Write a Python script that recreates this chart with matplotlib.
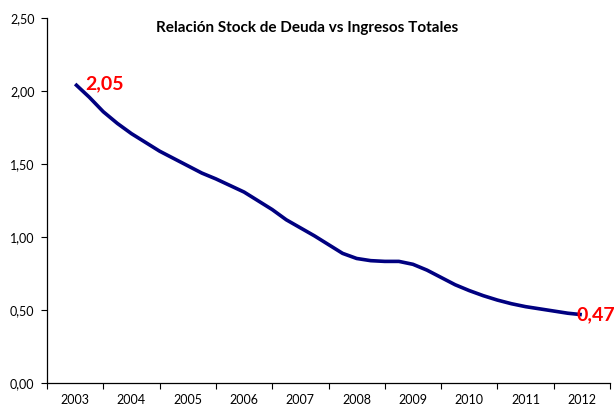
import matplotlib
matplotlib.use("Agg")
import matplotlib.pyplot as plt
from matplotlib.ticker import FuncFormatter, FixedLocator
import numpy as np

years = ["2003", "2004", "2005", "2006", "2007", "2008", "2009", "2010", "2011", "2012"]
# quarterly readings (fractional position within the category axis)
quarter_pos = [i / 4 for i in range(37)]
ratio = [2.05, 1.96, 1.86, 1.78, 1.71, 1.65, 1.59, 1.54, 1.49, 1.44, 1.40, 1.355,
         1.31, 1.25, 1.19, 1.12, 1.065, 1.01, 0.95, 0.89, 0.855, 0.84, 0.835, 0.835,
         0.815, 0.775, 0.725, 0.675, 0.635, 0.60, 0.57, 0.545, 0.525, 0.51, 0.495,
         0.48, 0.47]
first_label = "2,05"
last_label = "0,47"
title = "Relación Stock de Deuda vs Ingresos Totales"

plt.rcParams['font.family'] = ['Lato', 'DejaVu Sans']

fig = plt.figure(figsize=(6.15, 4.09), dpi=100)
ax = fig.add_axes([47/615, 1-383.3/409, (610-47)/615, (383.3-18.3)/409])

ax.plot(quarter_pos, ratio, color="#000080", lw=2.6, solid_capstyle="butt", solid_joinstyle="round")

ax.set_xlim(-0.5, len(years) - 0.5)
ax.set_ylim(0, 2.5)
ax.set_yticks(np.arange(0, 2.51, 0.5))
ax.yaxis.set_major_formatter(FuncFormatter(lambda v, p: f"{v:.2f}".replace(".", ",")))
ax.xaxis.set_major_locator(FixedLocator(np.arange(-0.5, len(years), 1.0)))
ax.xaxis.set_major_formatter(FuncFormatter(lambda v, p: ""))
ax.xaxis.set_minor_locator(FixedLocator(np.arange(len(years))))
ax.set_xticklabels(years, minor=True)
ax.tick_params(axis="x", which="minor", length=0, pad=8, labelsize=9, colors="#000000")
ax.tick_params(axis="x", which="major", length=4, direction="out", width=0.8)
ax.tick_params(axis="y", length=4, direction="out", width=0.8, labelsize=9, pad=5)

for s in ["top", "right"]:
    ax.spines[s].set_visible(False)
for s in ["left", "bottom"]:
    ax.spines[s].set_linewidth(0.9)

ax.annotate(first_label, (quarter_pos[0], ratio[0]), xytext=(7, 0), textcoords="offset points",
            color="#ff0000", fontsize=14, fontweight="bold", va="center", ha="left")
ax.annotate(last_label, (quarter_pos[-1], ratio[-1]), xytext=(-4, 0), textcoords="offset points",
            color="#ff0000", fontsize=14, fontweight="bold", va="center", ha="left",
            annotation_clip=False)

fig.text(0.5, 1 - 28/409, title, ha="center", va="center", fontsize=11, fontweight="bold")

fig.savefig("out.png", dpi=100)
